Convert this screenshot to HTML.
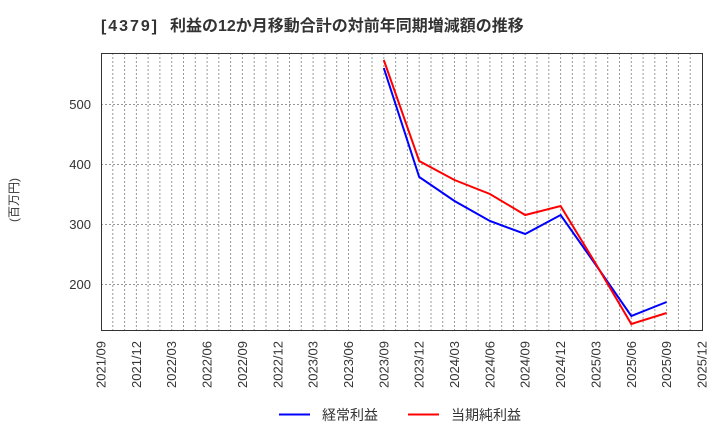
<!DOCTYPE html>
<html><head><meta charset="utf-8"><style>
html,body{margin:0;padding:0;background:#fff;}
svg{display:block;}
text{font-family:"Liberation Sans","Noto Sans CJK JP",sans-serif;}
</style></head><body>
<svg width="720" height="440" viewBox="0 0 720 440" xmlns="http://www.w3.org/2000/svg">
<rect width="720" height="440" fill="#fff"/>
<text x="101" y="31" font-size="16" font-weight="bold" fill="#333" textLength="56" lengthAdjust="spacing">[4379]</text>
<text x="170" y="31" font-size="16" font-weight="bold" fill="#333">利益の12か月移動合計の対前年同期増減額の推移</text>
<g stroke="#999" stroke-width="1" stroke-dasharray="2,2" fill="none">
<path d="M101,104.5H702M101,164.5H702M101,224.5H702M101,284.5H702"/>
<path d="M112.8,53V330M124.6,53V330M136.4,53V330M148.1,53V330M159.9,53V330M171.7,53V330M183.5,53V330M195.3,53V330M207.1,53V330M218.8,53V330M230.6,53V330M242.4,53V330M254.2,53V330M266,53V330M277.8,53V330M289.5,53V330M301.3,53V330M313.1,53V330M324.9,53V330M336.7,53V330M348.5,53V330M360.3,53V330M372,53V330M383.8,53V330M395.6,53V330M407.4,53V330M419.2,53V330M431,53V330M442.7,53V330M454.5,53V330M466.3,53V330M478.1,53V330M489.9,53V330M501.7,53V330M513.4,53V330M525.2,53V330M537,53V330M548.8,53V330M560.6,53V330M572.4,53V330M584.1,53V330M595.9,53V330M607.7,53V330M619.5,53V330M631.3,53V330M643.1,53V330M654.8,53V330M666.6,53V330M678.4,53V330M690.2,53V330"/>
</g>
<rect x="101.5" y="53.5" width="601" height="277" fill="none" stroke="#333" stroke-width="1"/>
<g font-size="13" fill="#333" text-anchor="end">
<text x="91" y="109">500</text>
<text x="91" y="169">400</text>
<text x="91" y="229">300</text>
<text x="91" y="289">200</text>
</g>
<text transform="translate(18,200) rotate(-90)" font-size="12" fill="#333" text-anchor="middle">(百万円)</text>
<g font-size="13" fill="#333" text-anchor="end">
<text transform="translate(105.5,341) rotate(-90)">2021/09</text>
<text transform="translate(140.9,341) rotate(-90)">2021/12</text>
<text transform="translate(176.2,341) rotate(-90)">2022/03</text>
<text transform="translate(211.6,341) rotate(-90)">2022/06</text>
<text transform="translate(246.9,341) rotate(-90)">2022/09</text>
<text transform="translate(282.3,341) rotate(-90)">2022/12</text>
<text transform="translate(317.6,341) rotate(-90)">2023/03</text>
<text transform="translate(353,341) rotate(-90)">2023/06</text>
<text transform="translate(388.3,341) rotate(-90)">2023/09</text>
<text transform="translate(423.7,341) rotate(-90)">2023/12</text>
<text transform="translate(459,341) rotate(-90)">2024/03</text>
<text transform="translate(494.4,341) rotate(-90)">2024/06</text>
<text transform="translate(529.7,341) rotate(-90)">2024/09</text>
<text transform="translate(565.1,341) rotate(-90)">2024/12</text>
<text transform="translate(600.4,341) rotate(-90)">2025/03</text>
<text transform="translate(635.8,341) rotate(-90)">2025/06</text>
<text transform="translate(671.1,341) rotate(-90)">2025/09</text>
<text transform="translate(706.5,341) rotate(-90)">2025/12</text>
</g>
<polyline fill="none" stroke="#0000ff" stroke-width="2" stroke-linejoin="miter" points="383.8,68 419.2,177 454.5,201 489.9,221 525.2,234 560.6,215 595.9,265 631.3,316 666.6,302"/>
<polyline fill="none" stroke="#ff0000" stroke-width="2" stroke-linejoin="miter" points="383.8,60 419.2,161 454.5,180 489.9,194 525.2,215 560.6,206 595.9,264 631.3,324 666.6,313"/>
<line x1="279" y1="414.5" x2="310" y2="414.5" stroke="#0000ff" stroke-width="2"/>
<text x="322" y="420" font-size="14" fill="#333">経常利益</text>
<line x1="408" y1="414.5" x2="439" y2="414.5" stroke="#ff0000" stroke-width="2"/>
<text x="451" y="420" font-size="14" fill="#333">当期純利益</text>
</svg>
</body></html>
